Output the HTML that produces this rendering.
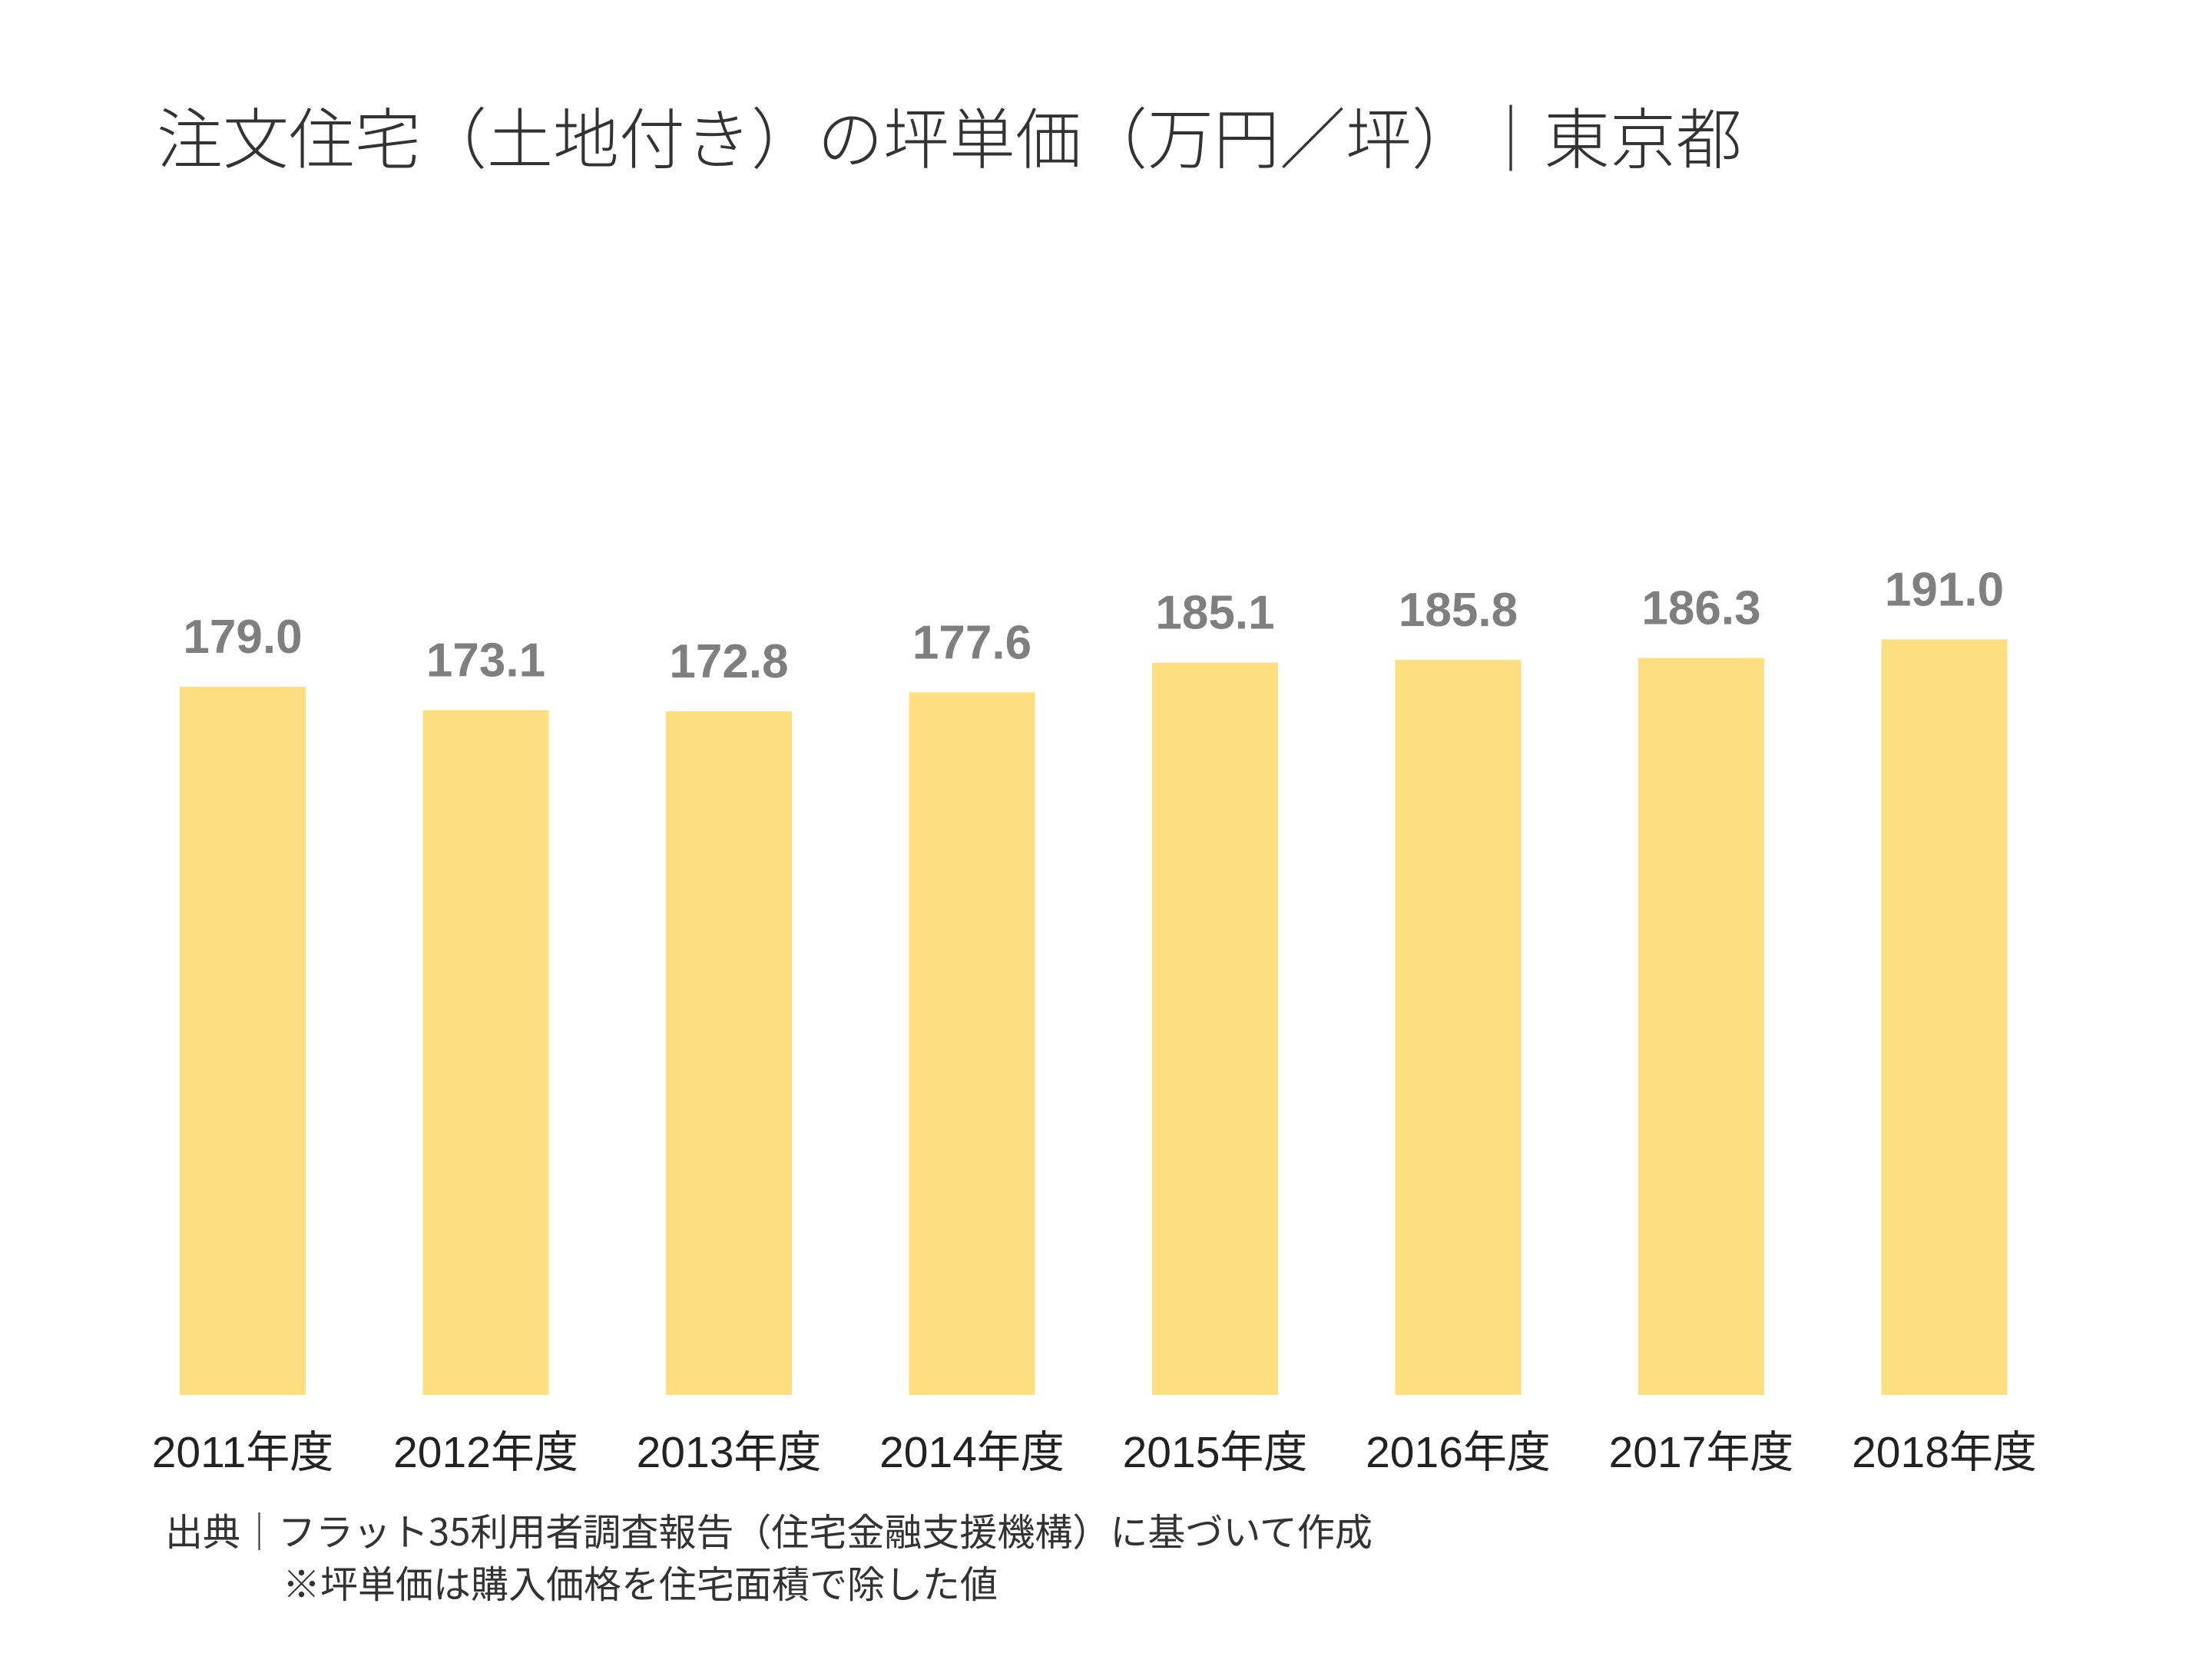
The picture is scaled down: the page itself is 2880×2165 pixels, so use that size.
<!DOCTYPE html>
<html><head><meta charset="utf-8"><style>
body{margin:0;background:#fff;}
svg text{font-family:"Liberation Sans","Noto Sans CJK JP",sans-serif;}
</style></head><body>
<svg width="2880" height="2160" viewBox="0 0 2880 2160">
<text x="204" y="212" font-size="86" font-weight="300" fill="#333" style="font-family:'Noto Sans CJK JP',sans-serif">注文住宅（土地付き）の坪単価（万円／坪）｜東京都</text>
<g id="bars"></g>
<text x="215" y="2012" font-size="49" fill="#333" style="font-family:'Noto Sans CJK JP',sans-serif">出典｜フラット35利用者調査報告（住宅金融支援機構）に基づいて作成</text>
<text x="368" y="2080" font-size="49" fill="#333" style="font-family:'Noto Sans CJK JP',sans-serif">※坪単価は購入価格を住宅面積で除した値</text>
</svg>
<script>
const categories=["2011年度","2012年度","2013年度","2014年度","2015年度","2016年度","2017年度","2018年度"];
const values=[179.0,173.1,172.8,177.6,185.1,185.8,186.3,191.0];
const labels=["179.0","173.1","172.8","177.6","185.1","185.8","186.3","191.0"];
const ns="http://www.w3.org/2000/svg";
const g=document.getElementById("bars");
const base=1816, k=5.15, x0=234, step=316.5, bw=164;
function yS(v){return base-v*k;}
function xS(i){return x0+i*step;}
categories.forEach((c,i)=>{
  const r=document.createElementNS(ns,"rect");
  
  
  r.setAttribute("x",xS(i));r.setAttribute("y",yS(values[i]));
  r.setAttribute("width",bw);r.setAttribute("height",base-yS(values[i]));
  r.setAttribute("fill","#fdde80");g.appendChild(r);
  const t=document.createElementNS(ns,"text");
  
  
  t.setAttribute("x",xS(i)+bw/2);t.setAttribute("y",yS(values[i])-44);
  t.setAttribute("text-anchor","middle");t.setAttribute("font-size","62");
  t.setAttribute("font-weight","bold");t.setAttribute("fill","#7f7f7f");
  t.textContent=labels[i];g.appendChild(t);
  const x=document.createElementNS(ns,"text");
  
  
  x.setAttribute("x",xS(i)+bw/2);x.setAttribute("y",1910);
  x.setAttribute("text-anchor","middle");x.setAttribute("font-size","57");
  x.setAttribute("fill","#222");x.textContent=c;g.appendChild(x);
});
</script>
</body></html>
